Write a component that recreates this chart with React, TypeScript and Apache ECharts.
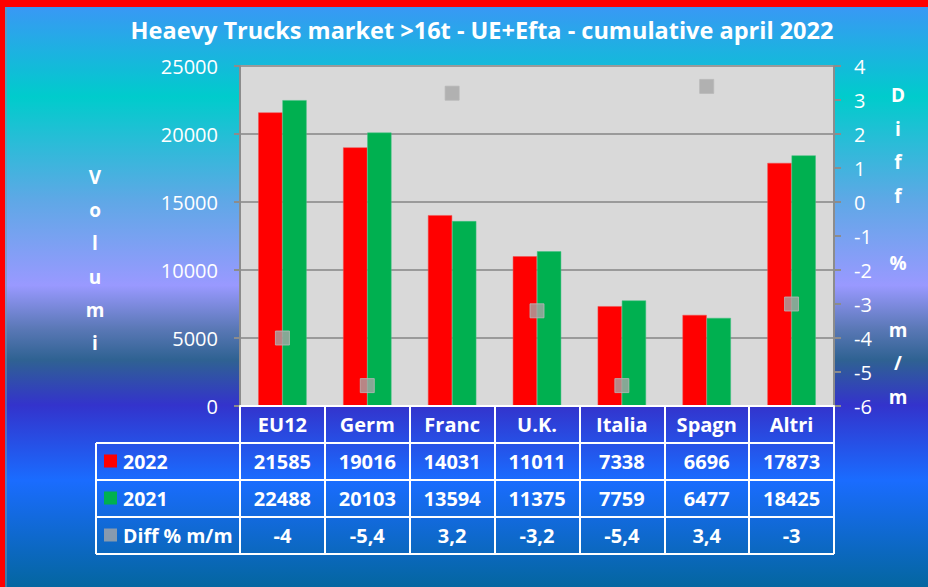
import React, { useEffect, useRef } from "react";
import * as echarts from "echarts";

const categories = ["EU12", "Germ", "Franc", "U.K.", "Italia", "Spagn", "Altri"];
const values2022 = [21585, 19016, 14031, 11011, 7338, 6696, 17873];
const values2021 = [22488, 20103, 13594, 11375, 7759, 6477, 18425];
const diffPct = [-4, -5.4, 3.2, -3.2, -5.4, 3.4, -3];
const leftTicks = { min: 0, max: 25000, interval: 5000 };
const rightTicks = { min: -6, max: 4, interval: 1 };

const W = 928;
const H = 587;
const GRID_LEFT = 240;
const GRID_RIGHT_X = 834;
const GRID_TOP = 66;
const GRID_BOTTOM_Y = 406;
const ROW_H = 37;
const TABLE_LEFT = 96;
const FONT = "'Open Sans', 'DejaVu Sans', sans-serif";

const fmt = (v: number) => String(v).replace(".", ",");

export default function App() {
  const ref = useRef<HTMLDivElement>(null);
  useEffect(() => {
    document.body.style.margin = "0";
    if (!ref.current) return;
    const chart = echarts.init(ref.current, null, { renderer: "svg" });

    const rowLines: any[] = [];
    for (let r = 1; r <= 4; r++) {
      const y = GRID_BOTTOM_Y + r * ROW_H;
      rowLines.push({
        type: "line",
        z: 50,
        shape: { x1: TABLE_LEFT, y1: y, x2: GRID_RIGHT_X, y2: y },
        style: { stroke: "#ffffff", lineWidth: 2 },
      });
    }
    rowLines.push({
      type: "line",
      z: 50,
      shape: { x1: TABLE_LEFT, y1: GRID_BOTTOM_Y + ROW_H, x2: TABLE_LEFT, y2: GRID_BOTTOM_Y + 4 * ROW_H },
      style: { stroke: "#ffffff", lineWidth: 2 },
    });

    const tableAxis = (offset: number, labels: (string | number)[]) => ({
      type: "category",
      data: categories,
      gridIndex: 0,
      position: "bottom",
      offset,
      axisLine: { show: false },
      axisTick: { show: false },
      splitLine: { show: false },
      axisLabel: {
        interval: 0,
        margin: ROW_H / 2,
        verticalAlign: "middle",
        color: "#ffffff",
        fontWeight: "bold",
        fontSize: 20,
        fontFamily: FONT,
        formatter: (_v: string, i: number) => String(labels[i]),
      },
    });

    chart.setOption({
      animation: false,
      graphic: [
        {
          type: "rect",
          z: -100,
          silent: true,
          shape: { x: 0, y: 0, width: W, height: H },
          style: {
            fill: new echarts.graphic.LinearGradient(0, 0, 0, 1, [
              { offset: 0, color: "#3d94f8" },
              { offset: 0.165, color: "#00cccc" },
              { offset: 0.34, color: "#5ea8e6" },
              { offset: 0.486, color: "#9999ff" },
              { offset: 0.56, color: "#5a78b6" },
              { offset: 0.613, color: "#2f6292" },
              { offset: 0.69, color: "#3333cc" },
              { offset: 0.818, color: "#1a6cff" },
              { offset: 1, color: "#0466a0" },
            ]),
          },
        },
        { type: "rect", z: 100, shape: { x: 0, y: 0, width: W, height: 7 }, style: { fill: "#ff0000" } },
        { type: "rect", z: 100, shape: { x: 0, y: 0, width: 5, height: H }, style: { fill: "#ff0000" } },
        { type: "line", z: 99, shape: { x1: 6, y1: 7, x2: 6, y2: H }, style: { stroke: "#7f8fa0", lineWidth: 1 } },
        {
          type: "text",
          z: 60,
          x: 95,
          y: 260,
          style: {
            text: "V\no\nl\nu\nm\ni",
            fill: "#ffffff",
            font: `bold 19px ${FONT}`,
            lineHeight: 33.3,
            align: "center",
            verticalAlign: "middle",
          },
        },
        {
          type: "text",
          z: 60,
          x: 898,
          y: 246,
          style: {
            text: "D\ni\nf\nf\n \n%\n \nm\n/\nm",
            fill: "#ffffff",
            font: `bold 19px ${FONT}`,
            lineHeight: 33.5,
            align: "center",
            verticalAlign: "middle",
          },
        },
        ...rowLines,
      ],
      title: {
        text: "Heaevy Trucks market >16t - UE+Efta - cumulative april 2022",
        left: 477,
        top: 13,
        textAlign: "center",
        textStyle: { color: "#ffffff", fontSize: 23.5, fontWeight: "bold", fontFamily: FONT },
      },
      legend: {
        orient: "vertical",
        left: 104,
        top: 451,
        padding: 0,
        itemWidth: 13,
        itemHeight: 13,
        itemGap: 17,
        selectedMode: false,
        itemStyle: { borderWidth: 0 },
        textStyle: { color: "#ffffff", fontWeight: "bold", fontSize: 19.5, fontFamily: FONT, padding: [0, 0, 0, 1] },
        data: [
          { name: "2022", icon: "rect" },
          { name: "2021", icon: "rect" },
          { name: "Diff % m/m", icon: "rect" },
        ],
      },
      grid: {
        left: GRID_LEFT,
        right: W - GRID_RIGHT_X,
        top: GRID_TOP,
        bottom: H - GRID_BOTTOM_Y,
        show: true,
        backgroundColor: "#d9d9d9",
        borderWidth: 0,
      },
      xAxis: [
        {
          type: "category",
          data: categories,
          position: "bottom",
          axisLine: { show: true, lineStyle: { color: "#ffffff", width: 2 } },
          axisTick: { show: true, interval: 0, length: ROW_H * 4, lineStyle: { color: "#ffffff", width: 2 } },
          splitLine: { show: false },
          axisLabel: {
            interval: 0,
            margin: ROW_H / 2,
            verticalAlign: "middle",
            color: "#ffffff",
            fontWeight: "bold",
            fontSize: 20,
            fontFamily: FONT,
          },
          z: 10,
        },
        tableAxis(ROW_H, values2022),
        tableAxis(ROW_H * 2, values2021),
        tableAxis(ROW_H * 3, diffPct.map(fmt)),
      ],
      yAxis: [
        {
          type: "value",
          min: leftTicks.min,
          max: leftTicks.max,
          interval: leftTicks.interval,
          axisLine: { show: true, lineStyle: { color: "#8c8c8c", width: 2 } },
          axisTick: { show: true, length: 6, lineStyle: { color: "#8c8c8c", width: 2 } },
          splitLine: { show: true, lineStyle: { color: "#9a9a9a", width: 2 } },
          axisLabel: { color: "#ffffff", fontSize: 20, fontFamily: FONT, margin: 22, formatter: (v: number) => String(v) },
        },
        {
          type: "value",
          position: "right",
          min: rightTicks.min,
          max: rightTicks.max,
          interval: rightTicks.interval,
          axisLine: { show: true, lineStyle: { color: "#8c8c8c", width: 2 } },
          axisTick: { show: true, length: 7, lineStyle: { color: "#8c8c8c", width: 2 } },
          splitLine: { show: false },
          axisLabel: { color: "#ffffff", fontSize: 20, fontFamily: FONT, margin: 20, formatter: (v: number) => String(v) },
        },
      ],
      series: [
        {
          name: "2022",
          type: "bar",
          data: values2022,
          barGap: "0%",
          barCategoryGap: "43%",
          itemStyle: { color: "#ff0000", borderColor: "#f05050", borderWidth: 0.5 },
        },
        {
          name: "2021",
          type: "bar",
          data: values2021,
          itemStyle: { color: "#00b050", borderColor: "#40c080", borderWidth: 0.5 },
        },
        {
          name: "Diff % m/m",
          type: "scatter",
          yAxisIndex: 1,
          data: diffPct,
          symbol: "rect",
          symbolSize: 14,
          itemStyle: { color: "#a6a6a6", borderColor: "#b8b8b8", borderWidth: 1 },
          z: 5,
        },
      ],
    });
    return () => chart.dispose();
  }, []);
  return <div ref={ref} style={{ width: W, height: H }} />;
}
